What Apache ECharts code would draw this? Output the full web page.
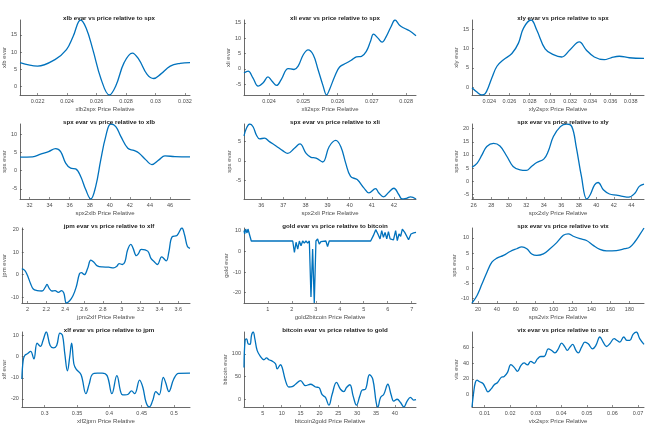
<!DOCTYPE html>
<html>
<head>
<meta charset="utf-8">
<script src="https://cdn.jsdelivr.net/npm/echarts@6/dist/echarts.min.js"></script>
<style>html,body{margin:0;padding:0;background:#fff}#c{width:650px;height:426px}</style>
</head>
<body>
<div id="c"></div>
<script>
const titles = ['xlb evar vs price relative to spx','xli evar vs price relative to spx','xly evar vs price relative to spx',
  'spx evar vs price relative to xlb','spx evar vs price relative to xli','spx evar vs price relative to xly',
  'jpm evar vs price relative to xlf','gold evar vs price relative to bitcoin','spx evar vs price relative to vix',
  'xlf evar vs price relative to jpm','bitcoin evar vs price relative to gold','vix evar vs price relative to spx'];
const xNames = ['xlb2spx Price Relative','xli2spx Price Relative','xly2spx Price Relative',
  'spx2xlb Price Relative','spx2xli Price Relative','spx2xly Price Relative',
  'jpm2xlf Price Relative','gold2bitcoin Price Relative','sps2vix Price Relative',
  'xlf2jpm Price Relative','bitcoin2gold Price Relative','vix2spx Price Relative'];
const yNames = ['xlb evar','xli evar','xly evar','spx evar','spx evar','spx evar',
  'jpm evar','gold evar','spx evar','xlf evar','bitcoin evar','vix evar'];

const xTicks1 = [0.022,0.024,0.026,0.028,0.03,0.032], yTicks1 = [0,5,10,15];
const xTicks2 = [0.024,0.025,0.026,0.027,0.028], yTicks2 = [-5,0,5,10,15];
const xTicks3 = [0.024,0.026,0.028,0.03,0.032,0.034,0.036,0.038], yTicks3 = [0,5,10,15];
const xTicks4 = [32,34,36,38,40,42,44,46], yTicks4 = [-5,0,5,10];
const xTicks5 = [36,37,38,39,40,41,42], yTicks5 = [-5,0,5];
const xTicks6 = [26,28,30,32,34,36,38,40,42,44], yTicks6 = [-5,0,5,10,15,20];
const xTicks7 = [2,2.2,2.4,2.6,2.8,3,3.2,3.4,3.6], yTicks7 = [-10,0,10,20];
const xTicks8 = [1,2,3,4,5,6,7], yTicks8 = [-20,-10,0,10];
const xTicks9 = [20,40,60,80,100,120,140,160,180], yTicks9 = [-10,-5,0,5,10];
const xTicks10 = [0.3,0.35,0.4,0.45,0.5], yTicks10 = [-20,-10,0,10];
const xTicks11 = [5,10,15,20,25,30,35,40], yTicks11 = [0,50,100];
const xTicks12 = [0.01,0.02,0.03,0.04,0.05,0.06,0.07], yTicks12 = [0,20,40,60];

const p1x = [0.02081,0.022,0.02318,0.02396,0.02441,0.02492,0.0253,0.02575,0.02631,0.02687,0.02731,0.02787,0.02843,0.02888,0.02943,0.02988,0.03033,0.031,0.03167,0.03234];
const p1y = [6.9,5.9,7.8,10.7,14.5,19.3,16.9,10.7,2.1,-2.5,0.2,6.9,9.7,7.8,3.5,2.3,3.5,5.9,6.7,6.9];
const p2x = [0.02327,0.02339,0.02353,0.02368,0.02383,0.02397,0.02409,0.02422,0.02436,0.02456,0.02473,0.02485,0.025,0.02514,0.02529,0.02543,0.02558,0.02568,0.02577,0.02592,0.02606,0.02626,0.0264,0.02655,0.0267,0.02684,0.02696,0.02705,0.02718,0.0273,0.02742,0.02756,0.02768,0.02781,0.02795,0.0281,0.02829];
const p2y = [-1.3,-0.75,-2.9,-5.6,-4.5,-2.6,-4.0,-5.4,-3.4,0.1,-0.2,0.9,4.6,6.2,4.6,-0.2,-5.6,-8.5,-6.6,-2.4,0.6,1.9,2.8,3.9,4.1,5.7,8.9,11.3,10.0,8.7,10.5,13.7,15.9,14.2,13.2,12.4,10.8];
const p3x = [0.02229,0.02278,0.02328,0.0236,0.02393,0.02426,0.02476,0.02541,0.02624,0.02689,0.02739,0.02814,0.0287,0.02953,0.03035,0.03117,0.032,0.03292,0.03358,0.0344,0.03539,0.03605,0.03687,0.03786,0.03932];
const p3y = [-0.17,-1.3,-2.06,-1.7,0.1,2.4,5.4,7.1,8.7,11.4,15.3,17.4,14.8,9.9,8.4,7.8,9.7,11.7,9.7,7.8,7.1,7.6,8.0,7.6,7.45];
const p4x = [31.05,32.3,33.1,33.9,34.6,35.1,35.6,36.1,36.6,37.1,37.6,38.1,38.6,39.1,39.6,40.1,40.6,41.1,41.8,42.4,42.9,43.6,44.2,44.9,45.5,46.5,48.0];
const p4y = [3.76,3.85,4.6,5.3,6.1,5.3,2.1,0.7,0.5,-1.6,-5.2,-7.8,-4.3,3.0,9.5,12.9,12.2,9.5,6.2,5.6,4.9,3.0,1.7,3.0,4.1,3.9,3.8];
const p5x = [35.22,35.33,35.48,35.63,35.78,35.93,36.15,36.37,36.67,36.97,37.2,37.5,37.75,38.03,38.25,38.48,38.78,39.07,39.37,39.6,39.82,40.04,40.34,40.64,40.87,41.17,41.32,41.54,41.77,42.0,42.22,42.37,42.6,42.75,43.0];
const p5y = [6.36,8.3,9.4,8.7,6.6,5.6,5.8,4.9,3.8,2.6,1.9,3.2,4.3,1.9,0.9,0.7,-0.3,3.6,5.2,3.6,-0.6,-4.0,-4.8,-6.9,-8.2,-7.1,-8.2,-9.2,-8.0,-7.0,-8.6,-9.75,-9.5,-9.2,-9.75];
const p6x = [25.81,26.38,26.95,27.5,28.27,29.0,29.8,30.5,31.3,32.0,32.6,33.2,34.0,34.5,35.1,35.9,36.6,37.2,37.7,38.3,38.9,39.3,39.8,40.2,40.8,41.5,42.3,43.0,43.7,44.4,44.9,45.44];
const p6y = [5.3,6.8,10.0,13.2,14.4,13.4,9.4,5.6,4.3,4.1,5.6,7.1,8.4,11.3,17.0,20.8,21.8,20.8,13.2,1.8,-6.8,-5.2,-1.4,-0.5,-3.3,-4.9,-5.3,-5.8,-6.1,-4.6,-2.0,-1.1];
const p7x = [1.941,1.972,2.0,2.034,2.062,2.103,2.155,2.19,2.207,2.231,2.259,2.293,2.328,2.362,2.386,2.414,2.448,2.483,2.517,2.552,2.572,2.603,2.638,2.672,2.707,2.741,2.793,2.862,2.914,2.948,2.972,3.007,3.034,3.062,3.097,3.121,3.155,3.179,3.207,3.276,3.31,3.345,3.379,3.424,3.472,3.5,3.534,3.586,3.638,3.666,3.697,3.724];
const p7y = [2.7,1.9,-0.3,-4.0,-6.3,-7.0,-7.2,-5.5,-4.3,-6.0,-7.2,-7.0,-7.8,-7.0,-8.1,-12.5,-11.5,-9.3,-5.5,0.4,0.9,0,2.7,6.4,5.4,3.9,3.4,3.3,3.0,3.7,4.9,4.5,5.7,10.9,13.4,11.6,8.4,9.4,11.2,10.4,7.2,5.7,4.5,7.9,6.1,10.1,16.7,17.3,20.6,17.6,12.4,11.6];
const p8x = [0.004,0.032,0.073,0.129,0.17,0.239,0.308,2.037,2.107,2.176,2.245,2.314,2.383,2.452,2.521,2.59,2.66,2.73,2.798,2.867,2.936,3.006,3.075,3.144,3.213,3.282,3.42,3.49,3.559,5.288,5.4,5.5,5.59,5.68,5.75,5.82,5.89,5.96,6.03,6.1,6.17,6.24,6.33,6.4,6.47,6.54,6.61,6.71,6.78,6.87,6.97,7.08,7.18];
const p8y = [10,8.4,10.8,8.9,10.8,11.3,5,5,-0.5,4.4,1.1,5,2.7,5,4,5,4,5,-22.1,1.1,-25,5,6,3.5,4.7,5,5,2.3,5,5,7.6,10.5,8.4,6,10,6.8,9.2,6,9.5,6,6.8,5.6,10,5.2,8.4,7.3,10.8,9.2,8.4,5.6,8.4,8.9,9.2];
const p9x = [13.7,18.9,24.2,29.5,34.7,40,47,54,61,66.3,71.6,76.8,82.1,89.1,96.1,103.2,110.2,115.4,120.7,127.7,134.7,141.8,148.8,155.8,166.3,175.1,180.4,185.6,190.9,195.4];
const p9y = [-11.4,-9.0,-5.2,-1.3,2.0,3.3,4.2,5.5,6.4,7.0,6.4,4.7,4.2,4.7,6.4,8.4,10.8,11.3,10.5,9.7,9.1,7.5,6.2,5.7,5.8,6.4,6.9,8.6,11.0,13.2];
const p10x = [0.2648,0.2668,0.2693,0.2734,0.2784,0.2834,0.2884,0.2935,0.2975,0.3025,0.3085,0.3136,0.3186,0.3236,0.3276,0.3312,0.3352,0.3387,0.3417,0.3452,0.3487,0.3563,0.3638,0.3688,0.3739,0.3814,0.3889,0.3965,0.404,0.4116,0.4191,0.4241,0.4291,0.4342,0.4392,0.4467,0.4518,0.4568,0.4618,0.4668,0.4719,0.4769,0.4834,0.4869,0.492,0.4995,0.507,0.5246];
const p10y = [-10.6,-1.9,0.5,1.3,2.5,-1.1,6.3,4.8,7.6,11.6,5.2,4.1,5.2,11.1,10.0,1.3,-6.7,-0.3,6.3,-3.5,-5.9,-8.6,-17.5,-13.0,-8.3,-7.8,-7.8,-9.0,-17.5,-9.0,-17.8,-18.1,-17.8,-16.2,-17.5,-11.1,-14.6,-21.7,-23.8,-20.9,-16.5,-18.1,-9.8,-12.2,-16.5,-10.6,-7.9,-7.8];
const p11x = [0.0,0.3,0.7,1.1,1.6,2.0,2.44,2.88,3.5,4.38,5.27,5.97,6.59,7.47,8.36,8.8,9.68,10.12,11.0,11.9,12.77,13.66,14.98,16.3,17.63,18.96,19.84,20.72,21.6,22.5,23.37,24.52,25.58,26.47,27.17,28.06,28.94,29.82,30.7,31.3,32.2,33.27,34.15,35.04,35.48,36.2,37.07,38.13,39.0,39.7,40.6,41.5,42.37,43.25,44.13,45.0,45.6];
const p11y = [70,130,133,122,121,141,148,133,107,94,87,91,87,84,78,67,76,70,41,27,28,33,41,30,33,27,26,10,4,-13,11,37,22,17,26,32,7,-13,7,20,22,54,44,-7,-17,4,11,33,10,-4,0,-7,-17,-4,4,-2,-1];
const p12x = [0.00506,0.00571,0.00636,0.00701,0.00805,0.00935,0.01026,0.0113,0.01247,0.01377,0.01506,0.01649,0.01766,0.01896,0.02026,0.02156,0.02286,0.02416,0.02545,0.02675,0.02805,0.02935,0.03065,0.03195,0.03325,0.03494,0.03623,0.03753,0.03883,0.04013,0.04143,0.04234,0.04338,0.04442,0.04571,0.04662,0.04792,0.04922,0.05052,0.05221,0.05351,0.05507,0.05636,0.05766,0.05896,0.06065,0.06182,0.06286,0.06442,0.06571,0.06675,0.06805,0.06935,0.07065,0.07234];
const p12y = [-15.2,3,15.6,18.6,16.5,14.4,9.3,3.8,7.2,12.7,15.6,22,23.2,28.3,38,34.6,29.6,36.7,40.1,37.6,42.2,39.7,45.2,48.2,48.2,57.9,55.8,52.8,57.9,65.1,60,55.8,60,63.4,55.8,52.8,60,66.3,64.2,57.9,62.1,72.7,66.3,60.8,64.2,70.6,68.4,66.3,72.7,68.4,68.4,76,79,70.6,63.4];

const xs = [p1x,p2x,p3x,p4x,p5x,p6x,p7x,p8x,p9x,p10x,p11x,p12x];
const ys = [p1y,p2y,p3y,p4y,p5y,p6y,p7y,p8y,p9y,p10y,p11y,p12y];
const xTicks = [xTicks1,xTicks2,xTicks3,xTicks4,xTicks5,xTicks6,xTicks7,xTicks8,xTicks9,xTicks10,xTicks11,xTicks12];
const yTicks = [yTicks1,yTicks2,yTicks3,yTicks4,yTicks5,yTicks6,yTicks7,yTicks8,yTicks9,yTicks10,yTicks11,yTicks12];
const smoothFlags = [true,true,true,true,true,true,true,false,true,true,true,true];

const FONT = '"Liberation Sans", Arial, Helvetica, sans-serif';
const colLeft = [18, 244, 472], gW = 172, gH = 75;
const grid = [], xAxis = [], yAxis = [], series = [], title = [];
for (let i = 0; i < 12; i++) {
  const r = Math.floor(i / 3), c = i % 3;
  const top = 20 + 104 * r;
  grid.push({left: colLeft[c], top: top, width: gW, height: gH, containLabel: false});
  title.push({text: titles[i], left: colLeft[c] + gW / 2, top: top - 10, textAlign: 'center',
    textStyle: {fontFamily: FONT, fontSize: 6.2, fontWeight: 'bold', color: '#1a1a1a'}});
  const axCommon = {
    gridIndex: i, type: 'value', min: 'dataMin', max: 'dataMax', nameLocation: 'middle',
    nameTextStyle: {fontFamily: FONT, fontSize: 6, color: '#4d4d4d'},
    axisLine: {show: true, onZero: false, lineStyle: {color: '#444', width: 0.8}},
    splitLine: {show: false}
  };
  xAxis.push(Object.assign({}, axCommon, {
    name: xNames[i], nameGap: 11,
    axisTick: {show: true, inside: true, length: 2, customValues: xTicks[i], lineStyle: {color: '#444', width: 0.6}},
    axisLabel: {customValues: xTicks[i], fontFamily: FONT, fontSize: 5.5, color: '#4d4d4d', margin: 3}
  }));
  yAxis.push(Object.assign({}, axCommon, {
    name: yNames[i], nameGap: 10,
    axisTick: {show: true, inside: true, length: 2, customValues: yTicks[i], lineStyle: {color: '#444', width: 0.6}},
    axisLabel: {customValues: yTicks[i], fontFamily: FONT, fontSize: 5.5, color: '#4d4d4d', margin: 3}
  }));
  series.push({type: 'line', xAxisIndex: i, yAxisIndex: i, showSymbol: false, smooth: smoothFlags[i] ? 0.4 : false,
    animation: false, lineStyle: {color: '#0072BD', width: 1.3}, itemStyle: {color: '#0072BD'},
    data: xs[i].map((x, k) => [x, ys[i][k]])});
}
const chart = echarts.init(document.getElementById('c'));
chart.setOption({animation: false, backgroundColor: '#fff', title, grid, xAxis, yAxis, series});
</script>
</body>
</html>
